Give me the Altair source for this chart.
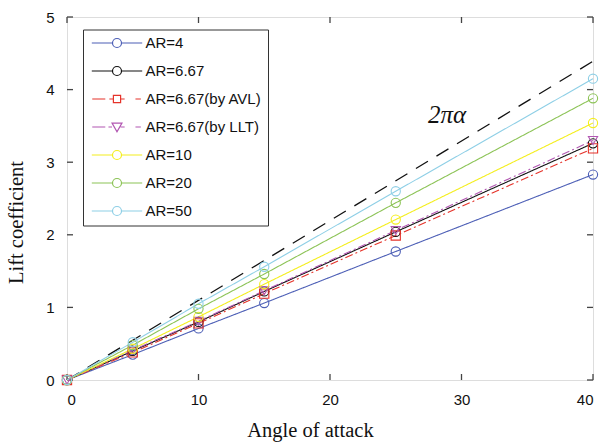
import altair as alt
import pandas as pd

# ---------------- data ----------------
alpha = [0, 5, 10, 15, 25, 40]
series_names = ["AR=4", "AR=6.67", "AR=6.67(by AVL)", "AR=6.67(by LLT)",
                "AR=10", "AR=20", "AR=50"]
cl_ar4 = [0, 0.35, 0.71, 1.06, 1.77, 2.83]
cl_ar667 = [0, 0.40, 0.80, 1.22, 2.04, 3.26]
cl_avl = [0, 0.38, 0.78, 1.19, 1.99, 3.19]
cl_llt = [0, 0.41, 0.81, 1.23, 2.06, 3.30]
cl_ar10 = [0, 0.43, 0.87, 1.32, 2.21, 3.54]
cl_ar20 = [0, 0.48, 0.98, 1.46, 2.44, 3.88]
cl_ar50 = [0, 0.52, 1.05, 1.56, 2.60, 4.15]

theory_x = [0, 40]
theory_y = [0, 4.39]
annot_x = [28.9]
annot_y = [3.65]
annot_text = ["2πα"]

x_ticks = [0, 10, 20, 30, 40]
y_ticks = [0, 1, 2, 3, 4, 5]

colors = ["#4d5fb6", "#111111", "#e5332a", "#b257b2", "#f4ee1e", "#8cc356", "#8ecfe6"]
shapes = ["circle", "circle", "square", "triangle-down", "circle", "circle", "circle"]
dashes = [[1, 0], [1, 0], [8, 3, 2, 3], [8, 3, 2, 3], [1, 0], [1, 0], [1, 0]]

all_cl = [cl_ar4, cl_ar667, cl_avl, cl_llt, cl_ar10, cl_ar20, cl_ar50]
rows = []
for name, vals in zip(series_names, all_cl):
    for a, c in zip(alpha, vals):
        rows.append({"series": name, "alpha": a, "cl": c})
df = pd.DataFrame(rows)
df_theory = pd.DataFrame({"alpha": theory_x, "cl": theory_y})
df_annot = pd.DataFrame({"alpha": annot_x, "cl": annot_y, "t": annot_text})
df_xt = pd.DataFrame({"v": x_ticks})
df_yt = pd.DataFrame({"v": y_ticks})

W, H = 526, 363

# legend symbol paths (line + marker)
circ = "M-1,0A1,1,0,1,1,1,0A1,1,0,1,1,-1,0Z"
p_solid = "M-5.6,0H-1M1,0H5.6" + circ
p_avl = "M-5.5,0H-2.6M-1.7,0H-0.8M-0.8,-0.8H0.8V0.8H-0.8ZM0.8,0H1.7M4.1,0H5.3"
p_llt = "M-5.5,0H-2.6M-1.9,0H-1.1M-1.1,-0.85L1.1,-0.85L0,1.05ZM0.8,0H1.7M4.1,0H5.3"
legend_paths = [p_solid, p_solid, p_avl, p_llt, p_solid, p_solid, p_solid]

xs = alt.Scale(domain=[0, 40], nice=False, zero=False)
ys = alt.Scale(domain=[0, 5], nice=False, zero=False)

x_axis = alt.Axis(values=x_ticks, format="d", tickSize=0, domain=False, grid=False,
                  labelFont="Liberation Sans", labelFontSize=15, labelColor="#111",
                  labelPadding=12, title="Angle of attack", titleFont="Liberation Serif",
                  titleFontSize=20.5, titleFontWeight="normal", titleColor="#111",
                  titlePadding=13, titleX=243)
y_axis = alt.Axis(values=y_ticks, format="d", tickSize=0, domain=False, grid=False,
                  labelFont="Liberation Sans", labelFontSize=15, labelColor="#111",
                  labelPadding=13, title="Lift coefficient", titleFont="Liberation Serif",
                  titleFontSize=20.5, titleFontWeight="normal", titleColor="#111",
                  titleX=-51, titleY=205, titleBaseline="middle", titleAngle=-90)

leg = alt.Legend(title=None, orient="none", legendX=16, legendY=12.5,
                 padding=6, strokeColor="#333", fillColor="white",
                 symbolSize=81, symbolStrokeWidth=1.2, symbolFillColor="transparent",
                 symbolOffset=20.5, labelOffset=21, rowPadding=12.0,
                 labelFont="Liberation Sans", labelFontSize=15,
                 labelColor="#111", labelLimit=300)

cscale = alt.Scale(domain=series_names, range=colors)

lines = alt.Chart(df).mark_line(strokeWidth=1.1).encode(
    x=alt.X("alpha:Q", scale=xs, axis=x_axis),
    y=alt.Y("cl:Q", scale=ys, axis=y_axis),
    color=alt.Color("series:N", scale=cscale, legend=None),
    strokeDash=alt.StrokeDash("series:N", scale=alt.Scale(domain=series_names, range=dashes), legend=None),
)

points = alt.Chart(df).mark_point(filled=False, strokeWidth=1.1, opacity=1).encode(
    x=alt.X("alpha:Q", scale=xs),
    y=alt.Y("cl:Q", scale=ys),
    color=alt.Color("series:N", scale=cscale, legend=None),
    shape=alt.Shape("series:N", scale=alt.Scale(domain=series_names, range=shapes), legend=None),
    size=alt.value(85),
)

legend_layer = alt.Chart(df).transform_filter("false").mark_point(
    filled=False, strokeWidth=1.2, opacity=1).encode(
    x=alt.X("alpha:Q", scale=xs),
    y=alt.Y("cl:Q", scale=ys),
    color=alt.Color("series:N", scale=cscale, legend=leg),
    shape=alt.Shape("series:N", scale=alt.Scale(domain=series_names, range=legend_paths), legend=leg),
)

theory = alt.Chart(df_theory).mark_line(color="#111", strokeWidth=1.3, strokeDash=[14, 10]).encode(
    x=alt.X("alpha:Q", scale=xs), y=alt.Y("cl:Q", scale=ys))

annot = alt.Chart(df_annot).mark_text(font="Liberation Serif", fontStyle="italic",
                                      fontSize=25, color="#111").encode(
    x=alt.X("alpha:Q", scale=xs), y=alt.Y("cl:Q", scale=ys), text="t:N")

tk = dict(color="#444", strokeWidth=1.3)
xt_bot = alt.Chart(df_xt).mark_rule(**tk).encode(
    x=alt.X("v:Q", scale=xs), y=alt.value(H), y2=alt.value(H - 6))
xt_top = alt.Chart(df_xt).mark_rule(**tk).encode(
    x=alt.X("v:Q", scale=xs), y=alt.value(0), y2=alt.value(6))
yt_left = alt.Chart(df_yt).mark_rule(**tk).encode(
    y=alt.Y("v:Q", scale=ys), x=alt.value(0), x2=alt.value(6))
yt_right = alt.Chart(df_yt).mark_rule(**tk).encode(
    y=alt.Y("v:Q", scale=ys), x=alt.value(W), x2=alt.value(W - 6))

chart = alt.layer(xt_bot, xt_top, yt_left, yt_right, theory, lines, points, annot, legend_layer).resolve_scale(
    color="independent", shape="independent"
).properties(
    width=W, height=H,
    autosize=alt.AutoSizeParams(type="none"),
    padding={"left": 67, "top": 17, "right": 7, "bottom": 66},
).configure_view(stroke="#444", strokeWidth=1.6).configure(background="white")

chart.save("out.html", embed_options={"renderer": "svg", "actions": False})
